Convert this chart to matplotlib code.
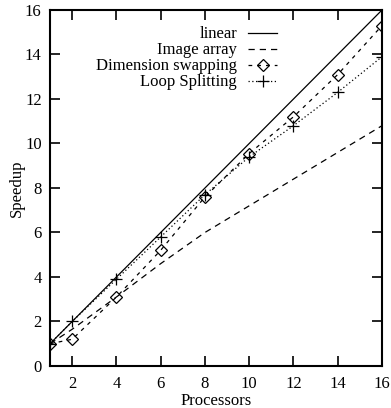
import numpy as np
import matplotlib
matplotlib.use("Agg")
import matplotlib.pyplot as plt

plt.rcParams["font.family"] = ["Liberation Serif", "DejaVu Serif"]
plt.rcParams["font.size"] = 12

procs = [1, 2, 4, 6, 8, 10, 12, 14, 16]
linear = [1, 2, 4, 6, 8, 10, 12, 14, 16]
image_array = [1, 1.65, 3.1, 4.6, 6.0, 7.2, 8.4, 9.6, 10.8]
dim_swap = [1, 1.2, 3.1, 5.2, 7.6, 9.55, 11.2, 13.1, 15.3]
loop_split = [1, 2.0, 3.9, 5.8, 7.7, 9.4, 10.8, 12.3, 13.9]

xticks = [2, 4, 6, 8, 10, 12, 14, 16]
yticks = [0, 2, 4, 6, 8, 10, 12, 14, 16]

fig = plt.figure(figsize=(3.91, 4.08), dpi=100)
ax = fig.add_axes([0.128, 0.103, 0.849, 0.8725])

ax.plot(procs, linear, color="black", lw=0.9, label="linear")
ax.plot(procs, image_array, color="black", lw=0.9, dashes=(5, 4), label="Image array")
ax.plot(procs, dim_swap, color="black", lw=0.9, dashes=(3, 4), marker="D",
        markersize=6, markerfacecolor="none", markeredgewidth=0.9,
        label="Dimension swapping")
ax.plot(procs, loop_split, color="black", lw=0.9, dashes=(1, 2), marker="+",
        markersize=9, markeredgewidth=0.9, label="Loop Splitting")

ax.set_xlim(1, 16)
ax.set_ylim(0, 16)
ax.set_xticks(xticks)
ax.set_yticks(yticks)
ax.tick_params(direction="in", top=True, right=True, length=7, width=1.2, pad=6)
ax.tick_params(axis="x", pad=7)
for s in ax.spines.values():
    s.set_linewidth(1.5)

ax.set_xlabel("Processors", labelpad=1)
ax.set_ylabel("Speedup", labelpad=0)

ax.legend(loc="upper right", bbox_to_anchor=(0.684, 0.954), frameon=False,
          markerfirst=False, handlelength=1.75, handletextpad=0.65,
          labelspacing=0.0, borderaxespad=0, borderpad=0)

fig.savefig("out.png", dpi=100)
